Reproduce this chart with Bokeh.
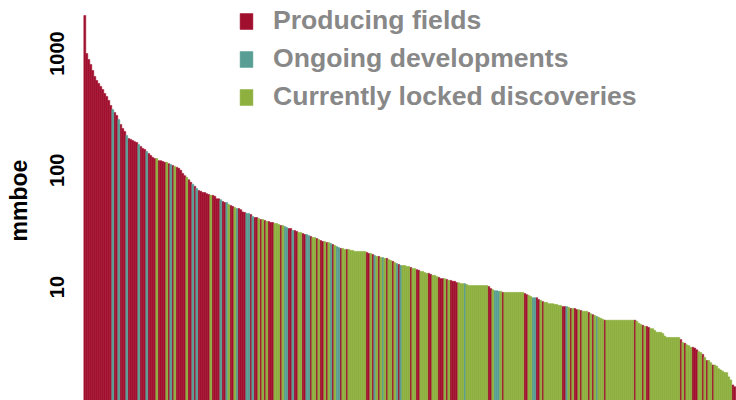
import math
from bokeh.plotting import figure
from bokeh.models import ColumnDataSource, Range1d, FixedTicker, Legend, LegendItem, PrintfTickFormatter
from bokeh.embed import file_html
from bokeh.resources import INLINE

# field sizes (mmboe), sorted descending
values = [
    2120, 1000, 889, 806, 716, 636, 588, 554, 522, 492,
    455, 429, 396, 359, 332, 313, 295, 272, 247, 228,
    215, 199, 187, 184, 180, 176, 173, 166, 160, 154,
    151, 145, 139, 134, 129, 126, 126, 121, 121, 119,
    117, 117, 114, 112, 110, 108, 106, 104, 100, 94,
    90, 87, 83, 79, 76, 73, 70, 67, 66, 64.5,
    64.5, 63, 62, 61, 61, 60, 57, 57, 56, 54,
    53, 53, 51, 50, 49, 48, 47, 47, 46, 44,
    43.5, 42.7, 42.7, 41.8, 40.2, 39.4, 39.4, 38.6, 37.9, 37.9,
    37.2, 36.4, 36.4, 35.7, 35.7, 35.0, 35.0, 34.3, 33.7, 33.7,
    33.0, 32.4, 31.7, 31.7, 30.5, 30.5, 29.9, 29.3, 29.3, 28.7,
    28.2, 28.2, 27.6, 27.1, 26.6, 26.6, 26.0, 25.5, 25.0, 24.5,
    24.5, 24.1, 24.1, 23.6, 23.1, 22.7, 22.2, 21.8, 21.4, 21.4,
    21.0, 21.0, 21.0, 20.6, 20.6, 20.2, 20.2, 20.2, 20.2, 20.2,
    20.2, 19.8, 19.4, 19.4, 19.0, 18.6, 18.3, 18.3, 17.9, 17.9,
    17.6, 17.6, 17.2, 16.9, 16.6, 16.2, 15.9, 15.6, 15.3, 15.3,
    15.3, 15.0, 15.0, 14.7, 14.4, 14.4, 14.1, 13.9, 13.6, 13.6,
    13.3, 13.1, 13.1, 12.8, 12.6, 12.6, 12.3, 12.1, 11.8, 11.8,
    11.8, 11.6, 11.4, 11.4, 11.2, 11.2, 10.9, 10.9, 10.7, 10.7,
    10.7, 10.5, 10.3, 10.3, 10.3, 10.3, 10.3, 10.3, 10.3, 10.3,
    10.3, 10.3, 10.1, 9.7, 9.5, 9.3, 9.3, 9.2, 9.2, 9.0,
    9.0, 9.0, 9.0, 9.0, 9.0, 9.0, 9.0, 9.0, 9.0, 9.0,
    8.8, 8.6, 8.5, 8.3, 8.1, 8.1, 8.1, 7.8, 7.7, 7.5,
    7.4, 7.4, 7.2, 7.2, 7.2, 7.1, 7.1, 6.95, 6.95, 6.8,
    6.8, 6.8, 6.7, 6.55, 6.55, 6.55, 6.4, 6.4, 6.3, 6.2,
    6.2, 6.2, 6.05, 5.9, 5.8, 5.7, 5.6, 5.5, 5.4, 5.3,
    5.2, 5.2, 5.2, 5.2, 5.2, 5.2, 5.2, 5.2, 5.2, 5.2,
    5.2, 5.2, 5.2, 5.2, 5.2, 5.2, 5.1, 4.9, 4.8, 4.7,
    4.6, 4.6, 4.5, 4.4, 4.4, 4.25, 4.1, 4.1, 4.1, 4.0,
    3.8, 3.7, 3.7, 3.7, 3.7, 3.7, 3.7, 3.7, 3.55, 3.35,
    3.3, 3.2, 3.15, 3.05, 3.05, 3.0, 2.9, 2.8, 2.75, 2.65,
    2.5, 2.35, 2.35, 2.25, 2.15, 2.15, 2.1, 2.0, 1.95, 1.9,
    1.85, 1.85, 1.7, 1.6, 1.45, 1.4,
]

# category of each field: P = producing, O = ongoing development, C = locked discovery
category_codes = (
    "PPPPPPPPPP" "PPPPOPPOPP" "POPPPPPOPP" "POPPPPCPPP" "PCPOPCPPPP"
    "PCPPOPOPPP" "PPPCPPPPOP" "POCPPCOPPP" "POOPOPPCPC" "PCPPPCCCPC"
    "OOPPOPPCCP" "POOPCCPCPP" "CPCOPCOOPC" "CPCCCCCCCC" "CPPCPOCPCO"
    "CPCCPCOPOC" "CCCPCCPPCC" "CCPPCCCPPP" "CPCPPPPCCC" "OCCCCCCCCC"
    "CCPPCOOOCP" "CCCCCCCCCC" "PPCCOOPPCP" "CCCCCCCCCP" "POCPCPPCPC"
    "CCPCPCOCCC" "PCCCCCCCCC" "CCCCCPCCCP" "CPPCCCCCCC" "CCCCCCCCPC"
    "PCCCPPPCCP" "CPCCPCCCCC" "CCCCPP"
)

category_order = ["P", "O", "C"]
category_labels = ["Producing fields", "Ongoing developments", "Currently locked discoveries"]
category_colors = ["#A0102E", "#589E94", "#8DB03E"]
y_ticks = [10, 100, 1000]

p = figure(
    width=736, height=400,
    y_axis_type="log",
    x_range=Range1d(-1.65, 325.85),
    y_range=Range1d(1.067, 2848),
    x_axis_location=None,
    output_backend="svg", toolbar_location=None,
    min_border_left=81, min_border_right=0, min_border_top=0, min_border_bottom=0,
)
p.outline_line_color = None
p.grid.visible = False
p.background_fill_color = "white"

items = []
for code, label, color in zip(category_order, category_labels, category_colors):
    xs = [i for i, c in enumerate(category_codes) if c == code]
    tops = [values[i] for i in xs]
    src = ColumnDataSource(dict(x=xs, top=tops))
    r = p.vbar(x="x", top="top", bottom=0.1, width=1, source=src,
               fill_color=color, line_color=color, line_width=0.5)
    items.append(LegendItem(label=label, renderers=[r]))

legend = Legend(
    items=items, location=(157, 288),
    glyph_width=16, glyph_height=20, label_standoff=19,
    label_text_font="Liberation Sans", label_text_font_size="26.6px",
    label_text_font_style="bold", label_text_color="#888888",
    spacing=7, padding=0, margin=0,
    border_line_color=None, background_fill_alpha=0,
)
p.add_layout(legend)

ax = p.yaxis[0]
ax.ticker = FixedTicker(ticks=y_ticks)
ax.formatter = PrintfTickFormatter(format="%d")
ax.major_tick_line_color = None
ax.minor_tick_line_color = None
ax.axis_line_color = None
ax.major_label_orientation = "vertical"
ax.major_label_standoff = 11
ax.major_label_text_font = "Liberation Sans"
ax.major_label_text_font_size = "20px"
ax.major_label_text_font_style = "bold"
ax.major_label_text_color = "black"
ax.axis_label = "mmboe"
ax.axis_label_text_font = "Liberation Sans"
ax.axis_label_text_font_size = "23px"
ax.axis_label_text_font_style = "bold"
ax.axis_label_text_color = "black"
ax.axis_label_standoff = 16

open("out.html", "w").write(file_html(p, INLINE))
